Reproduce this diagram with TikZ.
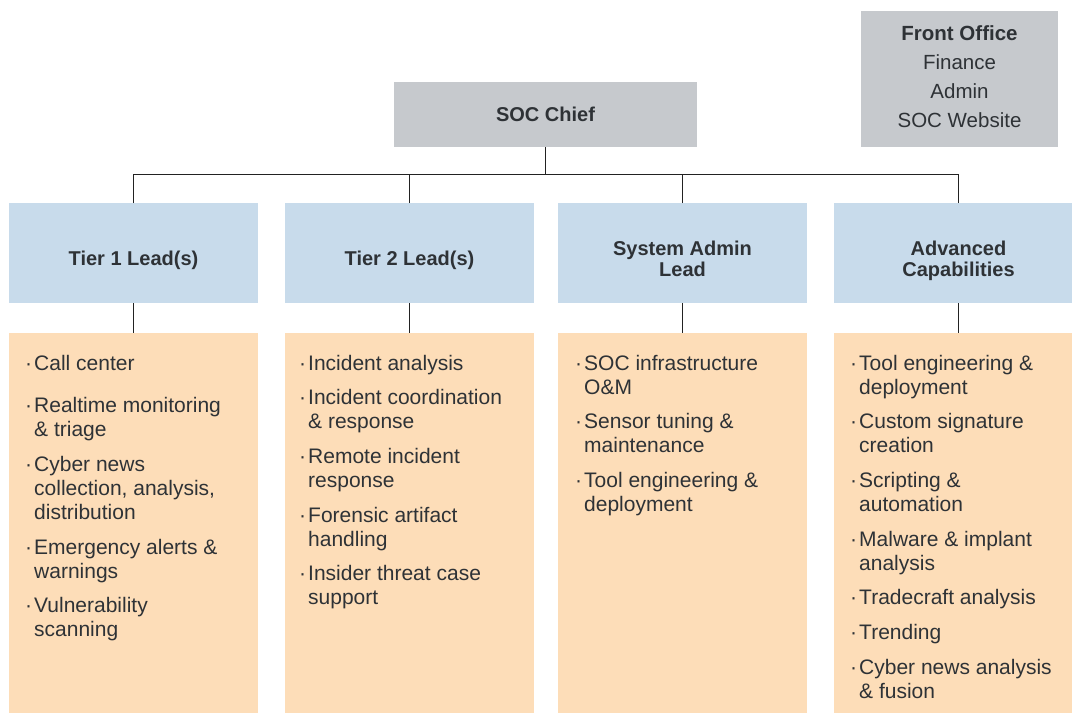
\documentclass[tikz,border=0pt]{standalone}
\usepackage{fontspec}
\setmainfont{Liberation Sans}
\definecolor{chiefgray}{HTML}{C6C9CD}
\definecolor{leadblue}{HTML}{C8DBEB}
\definecolor{taskorange}{HTML}{FDDDB8}
\definecolor{txt}{HTML}{2E3236}
\definecolor{linec}{HTML}{222222}
\newcommand\bi{\begin{tabular}[t]{@{}p{9pt}@{}l@{}}}
\newcommand\ei{\end{tabular}}
\begin{document}
\begin{tikzpicture}[x=1pt,y=-1pt,
  boxs/.style={anchor=north west, inner sep=0pt, outer sep=0pt, draw=none},
  grayb/.style={boxs, fill=chiefgray},
  blueb/.style={boxs, fill=leadblue, minimum width=249pt, minimum height=100pt},
  orangeb/.style={boxs, fill=taskorange, minimum width=249pt, minimum height=380pt},
  head/.style={text=txt, font=\fontsize{20}{21}\selectfont\bfseries, align=center, inner sep=0pt},
  itm/.style={anchor=base west, inner sep=0pt, text=txt, font=\fontsize{21}{24}\selectfont},
  conn/.style={draw=linec, line width=1pt}
]
\useasboundingbox (0,0) rectangle (1072,713);

% top boxes
\node[grayb, minimum width=303pt, minimum height=65pt] (chief) at (394,82) {};
\node[head] (chieft) at (chief.center) {SOC Chief};
\node[grayb, minimum width=197pt, minimum height=136pt] (fo) at (861,11) {};
\node[text=txt, inner sep=0pt, align=center, font=\fontsize{20.5}{29}\selectfont] (fot) at (959.5,77)
  {\textbf{Front Office}\\Finance\\Admin\\SOC Website};

% lead boxes
\node[blueb] (l1) at (9,203) {};
\node[blueb] (l2) at (285,203) {};
\node[blueb] (l3) at (558,203) {};
\node[blueb] (l4) at (834,203) {};
\node[head, yshift=-7pt] (l1t) at (l1.center) {Tier 1 Lead(s)};
\node[head, yshift=-7pt] (l2t) at (l2.center) {Tier 2 Lead(s)};
\node[head, yshift=-6pt] (l3t) at (l3.center) {System Admin\\Lead};
\node[head, yshift=-8pt] (l4t) at (l4.center) {Advanced\\Capabilities};

% task boxes
\node[orangeb] (t1) at (9,333) {};
\node[orangeb] (t2) at (285,333) {};
\node[orangeb] (t3) at (558,333) {};
\node[orangeb] (t4) at (834,333) {};

% connectors
\path (chief.south) ++(0,27) coordinate (bus);
\draw[conn] (chief.south) -- (bus);
\draw[conn] (l1.north) |- (bus);
\draw[conn] (l2.north) |- (bus);
\draw[conn] (l3.north) |- (bus);
\draw[conn] (l4.north) |- (bus);
\draw[conn] (l1.south) -- (t1.north);
\draw[conn] (l2.south) -- (t2.north);
\draw[conn] (l3.south) -- (t3.north);
\draw[conn] (l4.south) -- (t4.north);

% Tier 1 items
\node[itm] (a1) at (25,370) {\bi·&Call center\ei};
\node[itm] (a2) at (25,412) {\bi·&Realtime monitoring\\&\& triage\ei};
\node[itm] (a3) at (25,471) {\bi·&Cyber news\\&collection, analysis,\\&distribution\ei};
\node[itm] (a4) at (25,554) {\bi·&Emergency alerts \&\\&warnings\ei};
\node[itm] (a5) at (25,612) {\bi·&Vulnerability\\&scanning\ei};

% Tier 2 items
\node[itm] (b1) at (299,370) {\bi·&Incident analysis\ei};
\node[itm] (b2) at (299,404) {\bi·&Incident coordination\\&\& response\ei};
\node[itm] (b3) at (299,463) {\bi·&Remote incident\\&response\ei};
\node[itm] (b4) at (299,522) {\bi·&Forensic artifact\\&handling\ei};
\node[itm] (b5) at (299,580) {\bi·&Insider threat case\\&support\ei};

% System admin items
\node[itm] (c1) at (575,370) {\bi·&SOC infrastructure\\&O\&M\ei};
\node[itm] (c2) at (575,428) {\bi·&Sensor tuning \&\\&maintenance\ei};
\node[itm] (c3) at (575,487) {\bi·&Tool engineering \&\\&deployment\ei};

% Advanced capabilities items
\node[itm] (d1) at (850,370) {\bi·&Tool engineering \&\\&deployment\ei};
\node[itm] (d2) at (850,428) {\bi·&Custom signature\\&creation\ei};
\node[itm] (d3) at (850,487) {\bi·&Scripting \&\\&automation\ei};
\node[itm] (d4) at (850,546) {\bi·&Malware \& implant\\&analysis\ei};
\node[itm] (d5) at (850,604) {\bi·&Tradecraft analysis\ei};
\node[itm] (d6) at (850,639) {\bi·&Trending\ei};
\node[itm] (d7) at (850,674) {\bi·&Cyber news analysis\\&\& fusion\ei};
\end{tikzpicture}
\end{document}
